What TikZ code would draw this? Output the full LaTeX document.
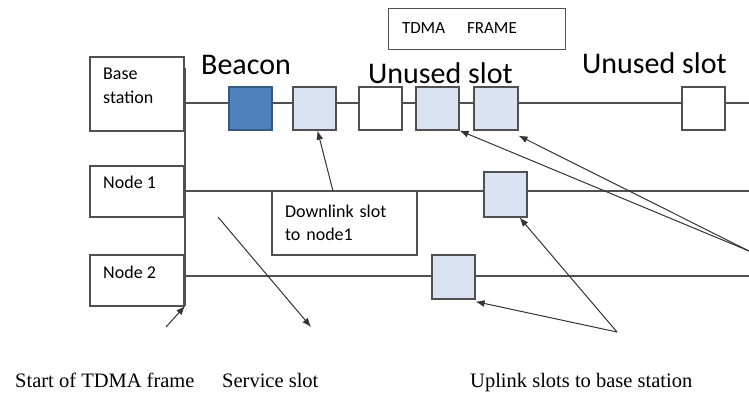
\documentclass[tikz,border=0pt]{standalone}
\usepackage{fontspec}
\setmainfont{Carlito}
\newfontfamily\notefont{Liberation Serif}
\usetikzlibrary{arrows.meta}

\definecolor{beaconblue}{HTML}{4F81BD}
\definecolor{slotblue}{HTML}{DAE3F1}
\definecolor{linegray}{HTML}{505050}

\tikzset{
    wire/.style={draw=linegray, line width=1.2pt},
    pointer/.style={draw=black!80, line width=1pt, -{Latex[length=9pt,width=7pt]}},
    hostbox/.style={draw=linegray, line width=1.2pt, rectangle, minimum width=94pt, minimum height=51pt, inner sep=0pt},
    hosttext/.style={font=\fontsize{18}{24}\selectfont, align=left, inner sep=0pt},
    slotbox/.style={draw=linegray, line width=1.2pt, rectangle, minimum width=43pt, minimum height=43pt, inner sep=0pt, fill=white},
    bigtext/.style={font=\fontsize{30}{32}\selectfont, inner sep=0pt},
    notetext/.style={font=\notefont\fontsize{20.5}{22}\selectfont, inner sep=0pt}
}

\begin{document}
\begin{tikzpicture}[x=1pt, y=-1pt]
        \useasboundingbox (0,0) rectangle (749,394);

        % hosts on the left
        \node[hostbox, minimum height=74pt] (bs) at (137,94) {};
        \node[hosttext, anchor=base west] (bslabel) at (103,103) {Base\\station};
        \node[hostbox] (n1) at (137,191.5) {};
        \node[hosttext, anchor=base west] (n1label) at (103,188) {Node 1};
        \node[hostbox] (n2) at (137,280.5) {};
        \node[hosttext, anchor=base west] (n2label) at (103,278) {Node 2};

        % start of the frame
        \coordinate (ftop) at (185,68);
        \coordinate (fbot) at (185,306);
        \path[wire] (ftop) -- (fbot);

        % time lines
        \coordinate (bsl) at (185,103);
        \coordinate (bsr) at (749,103);
        \coordinate (n1l) at (185,191);
        \coordinate (n1r) at (749,191);
        \coordinate (n2l) at (185,276);
        \coordinate (n2r) at (749,276);
        \path[wire] (bsl) -- (bsr);
        \path[wire] (n1l) -- (n1r);
        \path[wire] (n2l) -- (n2r);

        % slots of the base station
        \node[slotbox, fill=beaconblue, draw=beaconblue!70!black] (s1) at (250.5,108.5) {};
        \node[slotbox, fill=slotblue] (s2) at (314.5,108.5) {};
        \node[slotbox] (s3) at (380.5,108.5) {};
        \node[slotbox, fill=slotblue] (s4) at (437.5,108.5) {};
        \node[slotbox, fill=slotblue, minimum width=44pt] (s5) at (496,108.5) {};
        \node[slotbox] (s6) at (703.5,108.5) {};

        % uplink slots of the nodes
        \node[slotbox, fill=slotblue, minimum height=45pt] (u1) at (505.5,194.5) {};
        \node[slotbox, fill=slotblue, minimum height=44pt] (u2) at (453.5,277) {};

        % downlink box
        \node[draw=linegray, line width=1.2pt, rectangle, minimum width=145pt, minimum height=64pt,
              text width=119pt, inner xsep=13pt, inner ysep=0pt, align=left,
              font=\fontsize{18}{23}\selectfont] (dl) at (344.5,223) {Downlink slot\\to node1\\[-4pt]};

        % frame title
        \node[draw=linegray, line width=1pt, rectangle, minimum height=41pt,
              text width=149pt, inner xsep=14pt, align=left,
              font=\fontsize{17}{18}\selectfont] (tf) at (476.5,28.5) {TDMA\hspace{22pt}FRAME};

        % big labels
        \node[bigtext, anchor=base west] (beacon) at (201,74) {Beacon};
        \node[bigtext, anchor=base west] (unused1) at (368,83) {Unused slot};
        \node[bigtext, anchor=base west] (unused2) at (582,73) {Unused slot};

        % notes at the bottom
        \node[notetext, anchor=base west] (startnote) at (15,387) {Start of TDMA frame};
        \node[notetext, anchor=base west] (servicenote) at (222,387) {Service slot};
        \node[notetext, anchor=base west] (uplinknote) at (470,387) {Uplink slots to base station};

        % arrows
        \coordinate (dltail) at (333,191);
        \path[pointer] (dltail) -- ([xshift=3pt]s2.south);
        \coordinate (starttail) at (166,327);
        \path[pointer] (starttail) -- (fbot);
        \coordinate (servicetail) at (218,217);
        \coordinate (servicetip) at (311,327);
        \path[pointer] (servicetail) -- (servicetip);
        \coordinate (upapex) at (617,332);
        \path[pointer] (upapex) -- ([yshift=-2pt]u2.south east);
        \path[pointer] (upapex) -- ([xshift=-8pt]u1.south east);
        \coordinate (rightapex) at (749,251);
        \path[pointer] (rightapex) -- (s4.south east);
        \path[pointer] (rightapex) -- ([yshift=-5pt]s5.south east);
\end{tikzpicture}
\end{document}
